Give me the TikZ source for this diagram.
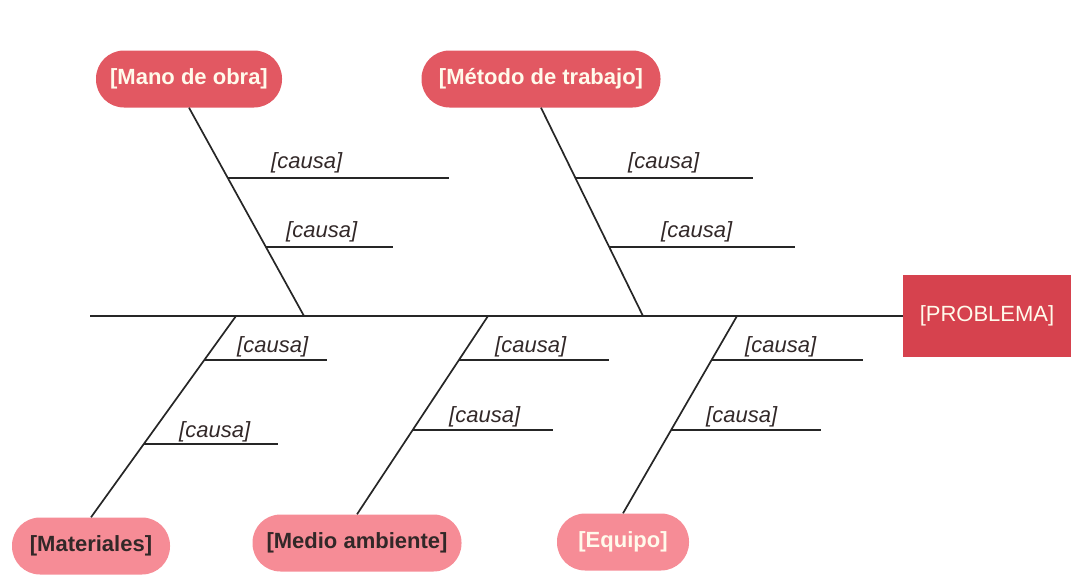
\documentclass[tikz,border=0pt]{standalone}
\usepackage{fontspec}
\setmainfont{Liberation Sans}
\usetikzlibrary{
		calc,
		positioning
	}
\definecolor{rojo}{RGB}{214,66,78}
\definecolor{rojomed}{RGB}{226,88,98}
\definecolor{rosa}{RGB}{246,140,150}
\definecolor{texto}{RGB}{255,250,235}
\definecolor{oscuro}{RGB}{50,40,40}
\tikzset{
		categoria/.style={rectangle, rounded corners=28pt, minimum height=57pt,
			inner sep=0pt, font=\fontsize{22}{26}\selectfont\bfseries},
		arriba/.style={categoria, fill=rojomed, text=texto},
		abajo/.style={categoria, fill=rosa, text=oscuro},
		causa/.style={font=\fontsize{22}{26}\selectfont\itshape, text=oscuro,
			inner sep=1pt, anchor=south west},
		hueso/.style={line width=1.7pt, black!85}
	}

\begin{document}
\begin{tikzpicture}[x=1pt,y=-1pt]
          \useasboundingbox (0,0) rectangle (1071,576);

          % cabeza y espina
          \node[rectangle, fill=rojo, text=texto, minimum width=168pt, minimum height=82pt,
            inner sep=0pt, font=\fontsize{22}{26}\selectfont] (problema) at (987,316) {[PROBLEMA]};
          \coordinate (cola) at (90,316);
          \draw[hueso] (cola) -- (problema.west);

          % categorias
          \node[arriba, minimum width=186pt] (mano) at (189,79) {[Mano de obra]};
          \node[arriba, minimum width=239pt] (metodo) at (541,79) {[Método de trabajo]};
          \node[abajo, minimum width=158pt] (materiales) at (91,546) {[Materiales]};
          \node[abajo, minimum width=209pt] (medio) at (357,543) {[Medio ambiente]};
          \node[abajo, minimum width=132pt, text=texto] (equipo) at (623,542) {[Equipo]};

          % puntos sobre la espina
          \coordinate (j1) at (304,316);
          \coordinate (j2) at (643,316);
          \coordinate (j3) at (236,316);
          \coordinate (j4) at (488,316);
          \coordinate (j5) at (737,316);

          \draw[hueso] (mano.south) -- (j1);
          \draw[hueso] (metodo.south) -- (j2);
          \draw[hueso] (j3) -- (materiales.north);
          \draw[hueso] (j4) -- (medio.north);
          \draw[hueso] (j5) -- (equipo.north);

          % causas
          \coordinate (c1) at (228,178);
          \coordinate (c2) at (266,247);
          \coordinate (c3) at (575,178);
          \coordinate (c4) at (609,247);
          \coordinate (c5) at (204,360);
          \coordinate (c6) at (144,444);
          \coordinate (c7) at (459,360);
          \coordinate (c8) at (413,430);
          \coordinate (c9) at (712,360);
          \coordinate (c10) at (671,430);

          \draw[hueso] (c1) -- (449,178);
          \draw[hueso] (c2) -- (393,247);
          \draw[hueso] (c3) -- (753,178);
          \draw[hueso] (c4) -- (795,247);
          \draw[hueso] (c5) -- (327,360);
          \draw[hueso] (c6) -- (278,444);
          \draw[hueso] (c7) -- (609,360);
          \draw[hueso] (c8) -- (553,430);
          \draw[hueso] (c9) -- (863,360);
          \draw[hueso] (c10) -- (821,430);

          \node[causa] (t1) at (270,174) {[causa]};
          \node[causa] (t2) at (285,243) {[causa]};
          \node[causa] (t3) at (627,174) {[causa]};
          \node[causa] (t4) at (660,243) {[causa]};
          \node[causa] (t5) at (236,358) {[causa]};
          \node[causa] (t6) at (178,443) {[causa]};
          \node[causa] (t7) at (494,358) {[causa]};
          \node[causa] (t8) at (448,428) {[causa]};
          \node[causa] (t9) at (744,358) {[causa]};
          \node[causa] (t10) at (705,428) {[causa]};

          \end{tikzpicture}
\end{document}
